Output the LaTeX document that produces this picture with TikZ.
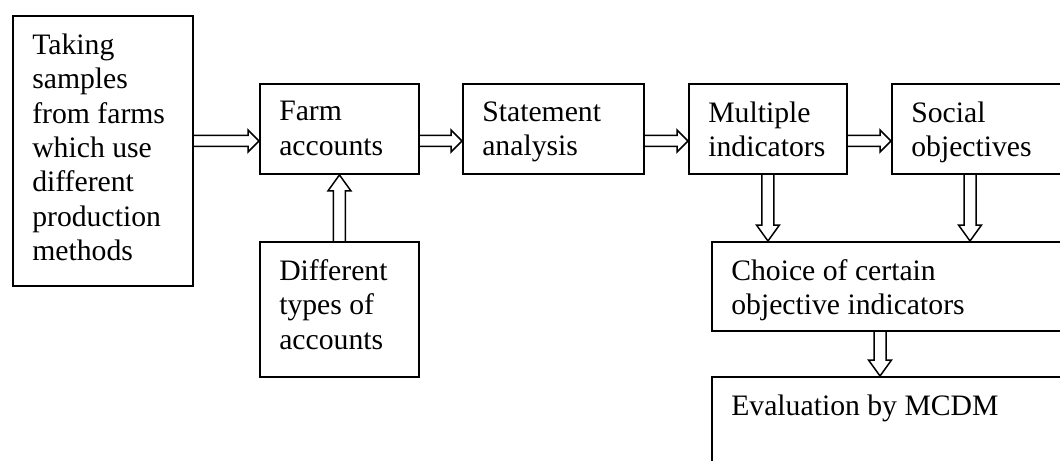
\documentclass[tikz,border=0pt]{standalone}
\usepackage{fontspec}
\setmainfont{Liberation Serif}
\usetikzlibrary{calc}

\newcommand{\boxfont}{\fontsize{16.9}{19.6}\selectfont}
% text of a box, top aligned: width, height, text
\newcommand{\boxtext}[3]{\parbox[t][\dimexpr #2-20pt\relax][t]{\dimexpr #1-22pt\relax}{\raggedright #3}}
% hollow block arrow: tail, tip, half shaft, half head, head length
\newcommand{\blockarrow}[5]{%
    \coordinate (hb) at ($(#2)!#5!(#1)$);
    \draw[flow] ($(#1)!#3!90:(#2)$) -- ($(hb)!#3!90:(#2)$) -- ($(hb)!#4!90:(#2)$)
        -- (#2) -- ($(hb)!#4!-90:(#2)$) -- ($(hb)!#3!-90:(#2)$) -- ($(#1)!#3!-90:(#2)$);
}
\newcommand{\harrow}[2]{\blockarrow{#1}{#2}{0.11cm}{0.22cm}{0.22cm}}
\newcommand{\varrow}[2]{\blockarrow{#1}{#2}{0.12cm}{0.23cm}{0.32cm}}

\begin{document}
\begin{tikzpicture}[
            x = 0.02cm, y = -0.02cm, % pixel grid
            box/.style = {draw, line width = 1.1pt, anchor = north west,
                inner xsep = 11pt, inner ysep = 10pt, font = \boxfont},
            flow/.style = {line width = 0.85pt, line join = miter}
        ]
    \clip (0,0) rectangle (1060,460);

    % Define the boxes
    \node[box] (samples) at (12,15) {\boxtext{3.6cm}{5.4cm}{Taking\\samples\\from farms\\which use\\different\\production\\methods}};
    \node[box] (farm) at (259,83) {\boxtext{3.18cm}{1.8cm}{Farm\\accounts}};
    \node[box] (statement) at (462,83) {\boxtext{3.62cm}{1.8cm}{Statement\\analysis}};
    \node[box] (multiple) at (688,83) {\boxtext{3.16cm}{1.8cm}{Multiple\\indicators}};
    \node[box] (social) at (891,83) {\boxtext{4cm}{1.8cm}{Social\\objectives}};
    \node[box] (types) at (259,241) {\boxtext{3.18cm}{2.7cm}{Different\\types of\\accounts}};
    \node[box] (choice) at (711,241) {\boxtext{8cm}{1.78cm}{Choice of certain\\objective indicators}};
    \node[box] (evaluation) at (711,376) {\boxtext{8cm}{2.4cm}{Evaluation by MCDM}};

    % Points where the arrows start and end
    \coordinate (y1) at ($(farm.west)+(0,12)$);
    \coordinate (a1) at (samples.east |- y1);
    \coordinate (a2) at (farm.west |- y1);
    \coordinate (b1) at (farm.east |- y1);
    \coordinate (b2) at (statement.west |- y1);
    \coordinate (c1) at (statement.east |- y1);
    \coordinate (c2) at (multiple.west |- y1);
    \coordinate (d1) at (multiple.east |- y1);
    \coordinate (d2) at (social.west |- y1);
    \coordinate (m1) at (multiple.south);
    \coordinate (m2) at (m1 |- choice.north);
    \coordinate (s1) at ($(social.south west)+(79,0)$);
    \coordinate (s2) at (s1 |- choice.north);
    \coordinate (e1) at ($(choice.south west)+(169,0)$);
    \coordinate (e2) at (e1 |- evaluation.north);

    % Draw arrows between boxes
    \harrow{a1}{a2}
    \harrow{b1}{b2}
    \harrow{c1}{c2}
    \harrow{d1}{d2}
    \varrow{types.north}{farm.south}
    \varrow{m1}{m2}
    \varrow{s1}{s2}
    \varrow{e1}{e2}
\end{tikzpicture}
\end{document}
